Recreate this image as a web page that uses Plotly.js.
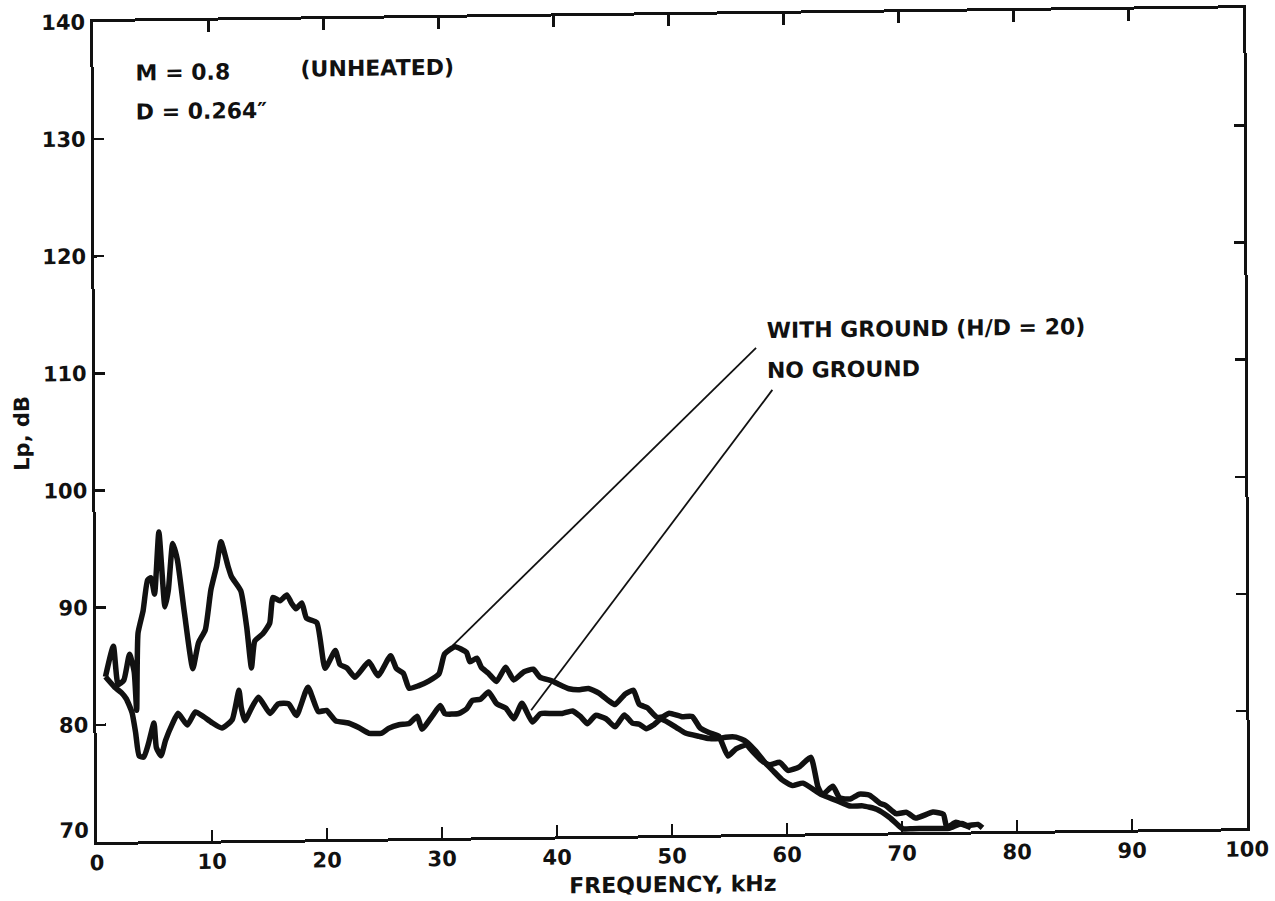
<!DOCTYPE html>
<html>
<head>
<meta charset="utf-8">
<script src="https://cdn.plot.ly/plotly-3.0.1.min.js"></script>
<style>
  html, body { margin: 0; padding: 0; background: #ffffff; }
  #chart {
    width: 1275px; height: 901px;
    /* slight tilt of the whole sheet */
    transform-origin: 97px 842px;
    transform: matrix(1, -0.012, 0.0045, 1, 0, 0);
  }
</style>
</head>
<body>
<div id="chart"></div>
<script>
// Sound pressure level spectra, M = 0.8 unheated jet, D = 0.264 in.
const freqWithGround = [0.8, 1.5, 1.9, 2.4, 2.9, 3.3, 3.5, 3.65, 4.1, 4.5, 4.8, 5.1, 5.5, 6.0, 6.3, 6.7, 7.1, 7.7, 8.4, 8.9,
  9.5, 10.0, 10.5, 10.9, 11.5, 11.8, 12.6, 13.1, 13.5, 13.8, 14.5, 15.1, 15.4, 16.0, 16.6, 17.0, 17.4, 17.9, 18.3, 19.2,
  19.9, 20.8, 21.2, 21.8, 22.5, 23.7, 24.5, 25.6, 26.1, 26.7, 27.2, 28.0, 28.9, 29.8, 30.3, 31.2, 32.2, 32.5, 33.1, 33.5,
  34.1, 34.8, 35.6, 36.3, 37.2, 38.0, 38.6, 39.6, 40.2, 41.1, 41.9, 42.8, 43.7, 44.6, 45.1, 46.0, 46.7, 47.2, 47.9, 48.7,
  49.2, 49.8, 50.9, 51.8, 52.5, 53.3, 54.1, 54.9, 55.6, 56.5, 57.0, 57.8, 58.5, 59.4, 60.1, 61.1, 62.1, 62.7, 63.1, 64.0,
  64.6, 65.5, 66.3, 67.2, 68.1, 68.6, 69.5, 70.4, 71.2, 72.7, 73.6, 73.9, 74.7, 75.6, 76.6, 77.0];
const lpWithGround = [84.1, 86.7, 83.4, 83.8, 86.0, 84.5, 81.2, 87.8, 89.7, 92.3, 92.5, 91.1, 96.4, 90.0, 91.4, 95.4, 94.0, 89.4, 84.7, 86.9,
  88.0, 91.4, 93.4, 95.5, 93.4, 92.5, 91.3, 88.2, 84.7, 87.0, 87.6, 88.5, 90.7, 90.4, 90.9, 90.2, 89.7, 90.2, 88.9, 88.5,
  84.6, 86.1, 84.9, 84.6, 83.8, 85.1, 83.9, 85.6, 84.5, 84.1, 82.8, 83.0, 83.4, 84.0, 85.7, 86.3, 85.8, 85.0, 85.3, 84.5,
  84.0, 83.3, 84.5, 83.4, 84.1, 84.3, 83.6, 83.3, 83.0, 82.6, 82.5, 82.6, 82.2, 81.5, 81.2, 82.1, 82.4, 81.2, 80.9, 80.1,
  80.1, 80.4, 80.1, 80.1, 79.1, 78.7, 78.4, 76.7, 77.3, 77.6, 77.1, 76.3, 75.9, 76.1, 75.4, 75.7, 76.5, 74.0, 73.3, 74.0,
  73.0, 72.9, 73.3, 73.2, 72.5, 72.3, 71.6, 71.7, 71.2, 71.7, 71.5, 70.4, 70.8, 70.5, 70.6, 70.3];

const freqNoGround = [0.8, 1.6, 2.2, 2.6, 3.1, 3.4, 3.7, 4.1, 4.5, 5.0, 5.2, 5.6, 6.0, 6.6, 7.1, 7.9, 8.6, 9.3, 10.0, 10.9,
  11.8, 12.4, 12.6, 12.9, 13.5, 14.1, 15.1, 15.8, 16.7, 17.4, 18.4, 19.3, 20.0, 20.8, 21.9, 22.8, 23.7, 24.8, 25.4, 26.3,
  27.2, 27.9, 28.3, 29.2, 29.9, 30.3, 31.5, 32.2, 32.7, 33.4, 34.1, 34.8, 35.6, 36.3, 37.0, 37.9, 38.6, 39.6, 40.5, 41.4,
  42.1, 42.7, 43.4, 44.3, 45.1, 45.9, 46.6, 47.2, 47.8, 48.4, 49.1, 50.4, 51.2, 52.4, 53.3, 54.1, 54.7, 55.6, 56.5, 57.3,
  58.2, 58.8, 59.6, 60.5, 61.4, 63.0, 64.3, 65.5, 66.6, 67.8, 68.9, 69.8, 70.1, 70.9, 72.1, 73.2, 74.1, 75.2, 76.0];
const lpNoGround = [84.1, 83.2, 82.7, 82.2, 81.0, 79.3, 77.3, 77.2, 78.3, 80.1, 78.0, 77.3, 78.6, 80.0, 80.9, 79.9, 81.0, 80.6, 80.1, 79.6,
  80.3, 82.8, 81.3, 80.2, 81.3, 82.2, 80.8, 81.6, 81.6, 80.6, 83.0, 80.9, 81.0, 80.1, 79.9, 79.5, 79.0, 79.0, 79.4, 79.7,
  79.8, 80.4, 79.3, 80.4, 81.3, 80.6, 80.6, 81.0, 81.7, 81.8, 82.4, 81.4, 81.0, 80.1, 81.4, 79.8, 80.5, 80.5, 80.5, 80.7,
  80.2, 79.6, 80.3, 80.0, 79.3, 80.3, 79.6, 79.5, 79.1, 79.4, 79.9, 79.2, 78.7, 78.4, 78.2, 78.2, 78.3, 78.3, 77.9, 77.1,
  76.0, 75.4, 74.6, 74.1, 74.3, 73.3, 72.8, 72.3, 72.3, 72.0, 71.3, 70.5, 70.3, 70.3, 70.3, 70.3, 70.3, 70.7, 70.3];

const xTicks = [0, 10, 20, 30, 40, 50, 60, 70, 80, 90, 100];
const yTicks = [70, 80, 90, 100, 110, 120, 130, 140];
const yUpperLabels = [80, 90, 100, 110, 120, 130, 140];
const yBottomLabel = [70];
const yRange = [70, 140];

// Leader lines from the curve labels: [x0, y0, x1, y1]
const leaderWithGround = [31.0, 86.4, 57.5, 111.5];
const leaderNoGround = [37.8, 80.8, 58.9, 107.9];

const INK = '#111111';
const FONT = 'DejaVu Sans, Liberation Sans, Arial, sans-serif';

const curveLine = { color: INK, width: 5.5, shape: 'spline', smoothing: 0.5 };
const traces = [
  { x: freqWithGround, y: lpWithGround, type: 'scatter', mode: 'lines', name: 'WITH GROUND (H/D = 20)',
    line: curveLine, hoverinfo: 'skip' },
  // second curve is carried on the labelled twin axis (same range and domain)
  { x: freqNoGround, y: lpNoGround, type: 'scatter', mode: 'lines', name: 'NO GROUND', yaxis: 'y2',
    line: curveLine, hoverinfo: 'skip' },
  // empty trace that keeps the bottom-label axis in place
  { x: [], y: [], type: 'scatter', mode: 'lines', yaxis: 'y3', hoverinfo: 'skip', showlegend: false }
];

function leader(p) {
  return { type: 'line', xref: 'x', yref: 'y', x0: p[0], y0: p[1], x1: p[2], y1: p[3],
           line: { color: INK, width: 1.8 } };
}

function note(text, x, y) {
  return { text: text, x: x, y: y, xref: 'x', yref: 'y', xanchor: 'left', yanchor: 'middle',
           showarrow: false, font: { family: FONT, size: 22, color: INK, weight: 700 } };
}

const tickFont = { family: FONT, size: 21, color: INK, weight: 700 };
const axisCommon = {
  showline: true, linecolor: INK, linewidth: 3, mirror: 'ticks',
  ticks: 'inside', tickcolor: INK, tickwidth: 2.5,
  showgrid: false, zeroline: false, tickmode: 'array', tickfont: tickFont
};
// label-only twin axes on the left edge
const labelAxis = {
  overlaying: 'y', anchor: 'free', position: 0, side: 'left', range: yRange, tickmode: 'array',
  showline: false, ticks: 'outside', ticklen: 4, tickcolor: 'rgba(0,0,0,0)',
  showgrid: false, zeroline: false, tickfont: tickFont
};

const layout = {
  width: 1275, height: 901,
  margin: { l: 97, r: 28, t: 22, b: 59 },
  paper_bgcolor: '#ffffff', plot_bgcolor: '#ffffff',
  showlegend: false,
  xaxis: Object.assign({}, axisCommon, {
    range: [0, 100], tickvals: xTicks, ticktext: xTicks.map(String), ticklen: 11
  }),
  // frame and tick marks
  yaxis: Object.assign({}, axisCommon, {
    range: yRange, tickvals: yTicks, ticklen: 10, showticklabels: false
  }),
  yaxis2: Object.assign({}, labelAxis, {
    tickvals: yUpperLabels, ticktext: yUpperLabels.map(String)
  }),
  // the lowest label sits a little above its tick, clear of the x labels
  yaxis3: Object.assign({}, labelAxis, {
    tickvals: yBottomLabel, ticktext: yBottomLabel.map(String), ticklabelshift: -12
  }),
  shapes: [leader(leaderWithGround), leader(leaderNoGround)],
  annotations: [
    note('M = 0.8', 3.5, 135.6),
    note('(UNHEATED)', 17.8, 135.8),
    note('D = 0.264″', 3.5, 132.3),
    note('WITH GROUND (H/D = 20)', 58.3, 113.0),
    note('NO GROUND', 58.3, 109.6),
    { text: 'FREQUENCY, kHz', xref: 'paper', yref: 'paper', x: 0.5, y: -0.0598,
      xanchor: 'center', yanchor: 'middle', showarrow: false,
      font: { family: FONT, size: 22, color: INK, weight: 700 } },
    { text: 'Lp, dB', xref: 'paper', yref: 'paper', x: -0.0635, y: 0.5, textangle: -90,
      xanchor: 'center', yanchor: 'middle', showarrow: false,
      font: { family: FONT, size: 21, color: INK, weight: 700 } }
  ]
};

Plotly.newPlot('chart', traces, layout, { staticPlot: true, displayModeBar: false });
</script>
</body>
</html>
